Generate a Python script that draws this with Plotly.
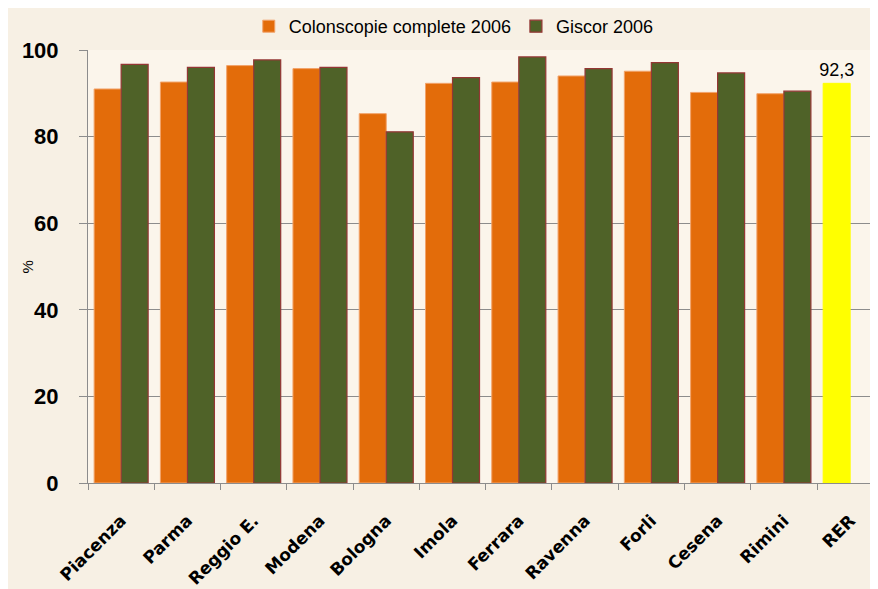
import plotly.graph_objects as go

# --- data ---
categories = ["Piacenza", "Parma", "Reggio E.", "Modena", "Bologna", "Imola",
              "Ferrara", "Ravenna", "Forli", "Cesena", "Rimini", "RER"]
colonscopie_2006 = [91.0, 92.6, 96.4, 95.7, 85.3, 92.3, 92.6, 94.0, 95.1, 90.2, 89.9, 92.3]
giscor_2006 = [96.7, 96.0, 97.7, 96.0, 81.1, 93.6, 98.4, 95.7, 97.1, 94.7, 90.5, None]
bar_labels = [""] * 11 + ["92,3"]
y_ticks = [0, 20, 40, 60, 80, 100]

orange = "#E36C0A"
green = "#4F6228"
yellow = "#FFFF00"

orange_colors = [orange] * 11 + [yellow]
orange_lines = ["#F2A36A"] * 11 + [yellow]

fig = go.Figure()
fig.add_trace(go.Bar(
    x=categories, y=colonscopie_2006, name="Colonscopie complete 2006",
    marker=dict(color=orange_colors, line=dict(color=orange_lines, width=1)),
    text=bar_labels, textposition="outside", cliponaxis=False, constraintext="none",
    textfont=dict(family="Liberation Sans, Arial", size=18, color="black"),
    hoverinfo="x+y",
))
fig.add_trace(go.Bar(
    x=categories, y=giscor_2006, name="Giscor 2006",
    marker=dict(color=green, line=dict(color="#943634", width=1.2)),
))

# the page body has an 8px margin, so the figure is sized to fit the window
fig.update_layout(
    width=870, height=581,
    margin=dict(l=80, r=0, t=42, b=106, autoexpand=False),
    paper_bgcolor="#F7F0E4",
    plot_bgcolor="#FBF5EB",
    barmode="group", bargap=0.185, bargroupgap=0,
    font=dict(family="Liberation Sans, Arial", color="black"),
    legend=dict(orientation="h", x=0.463, xanchor="center",
                yref="container", y=1.0, yanchor="top",
                font=dict(size=18), bgcolor="rgba(0,0,0,0)", traceorder="normal",
                itemwidth=30),
    showlegend=True,
)
fig.add_annotation(text="%", xref="paper", yref="paper", x=-0.076, y=0.5,
                   xanchor="center", yanchor="middle",
                   textangle=-90, showarrow=False, font=dict(size=15))
fig.update_xaxes(
    type="category", range=[-0.5, 11.42], automargin=False,
    showline=True, linecolor="#8C8C8C", linewidth=1,
    ticks="outside", tickson="boundaries", ticklen=6, tickcolor="#8C8C8C",
    tickangle=-45, ticklabelstandoff=20,
    tickfont=dict(family="DejaVu Sans", size=17, color="black", weight="bold"),
    showgrid=False,
)
fig.update_yaxes(
    range=[0, 100], tickvals=y_ticks, automargin=False,
    showline=True, linecolor="#8C8C8C", linewidth=1,
    ticks="outside", ticklen=8, tickcolor="#8C8C8C",
    showgrid=True, gridcolor="#8C8C8C", gridwidth=1, zeroline=False,
    tickfont=dict(family="Liberation Sans, Arial", size=22, color="black", weight="bold"),
    ticklabelstandoff=16,
)

fig.write_html("out.html")
